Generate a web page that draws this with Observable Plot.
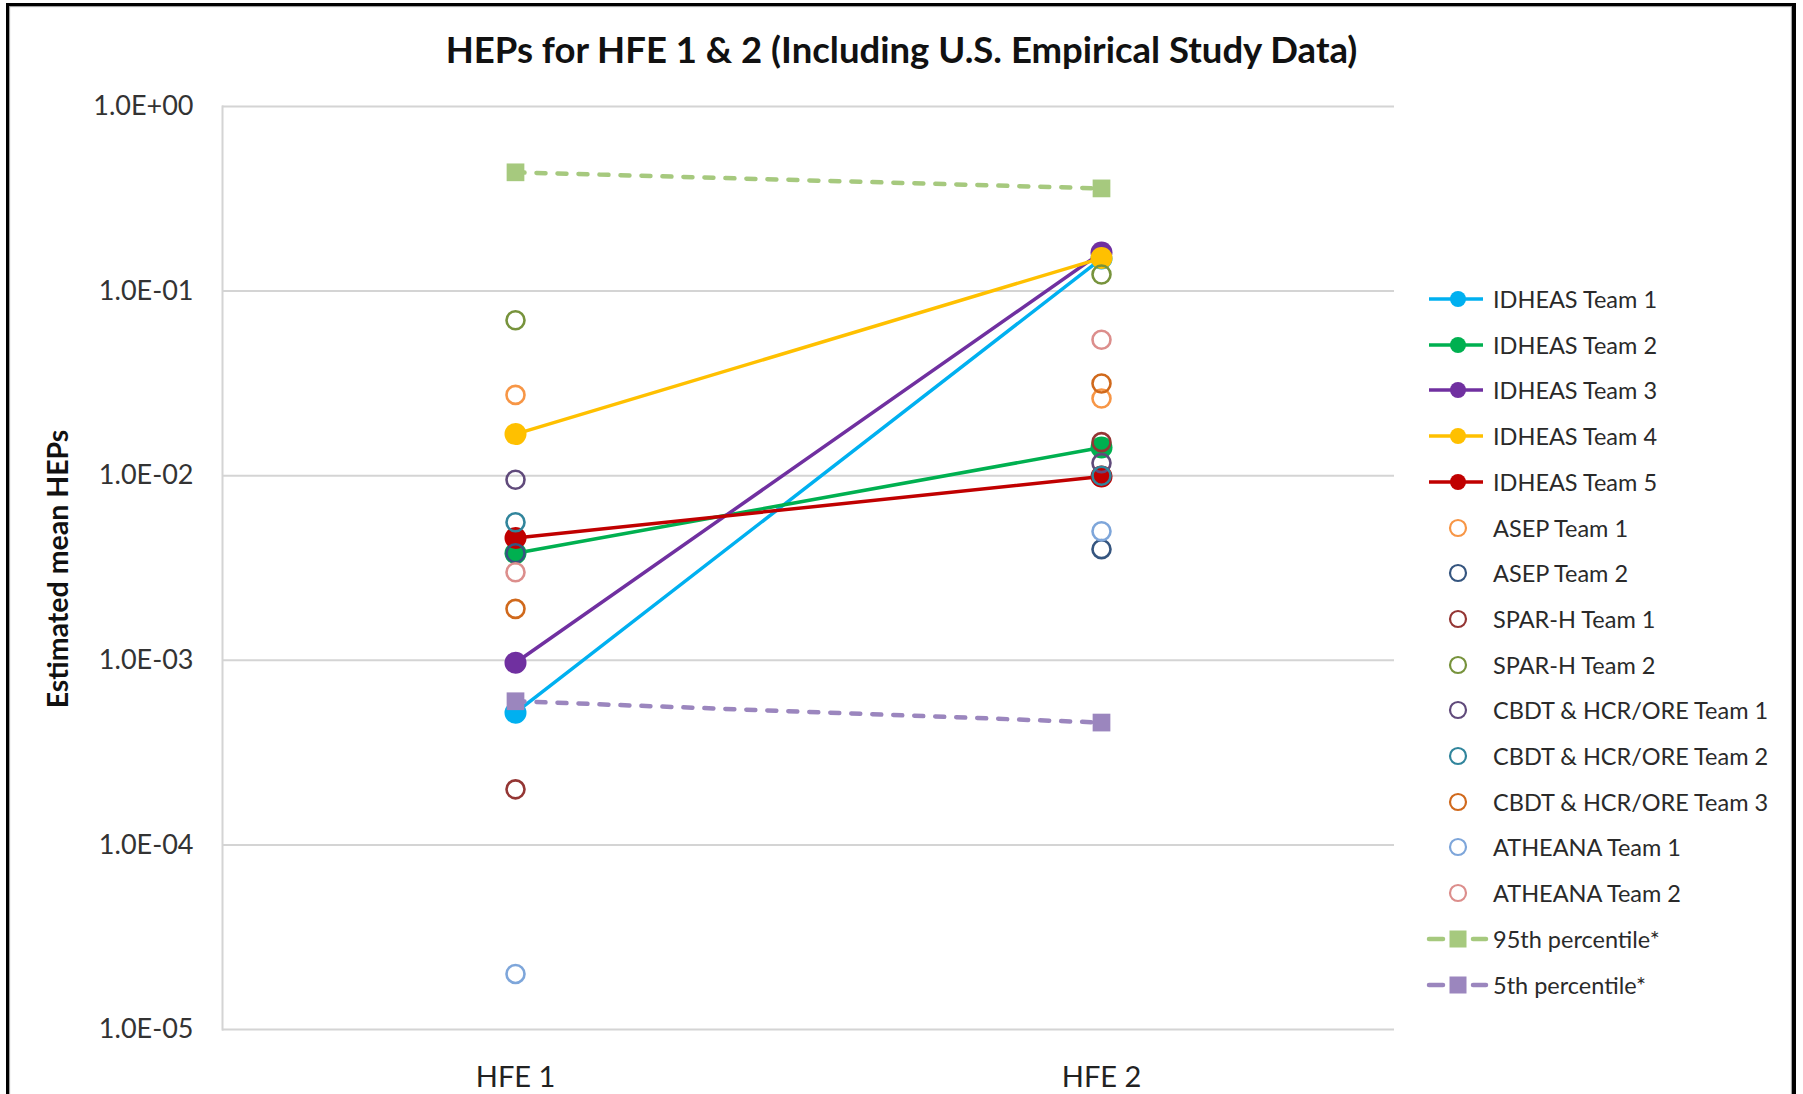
<!DOCTYPE html>
<html>
<head>
<meta charset="utf-8">
<script src="https://cdn.jsdelivr.net/npm/d3@7"></script>
<script src="https://cdn.jsdelivr.net/npm/@observablehq/plot@0.6"></script>
<style>
  html, body { margin: 0; padding: 0; background: #fff; }
  #wrap { position: relative; width: 1803px; height: 1094px; overflow: hidden; font-family: Lato, "Open Sans", sans-serif; }
  #chart { position: absolute; left: 0; top: 0; }
  #border { position: absolute; left: 6px; top: 3px; width: 1783px; height: 1200px; border-left: 3px solid #000; border-top: 3px solid #000; border-right: 4px solid #000; box-shadow: inset 1px 1px 1px #999, inset -1px 0 1px #999; pointer-events: none; }
  #title { position: absolute; left: 0; top: 26px; width: 1803px; text-align: center; font-weight: 700; font-size: 36.5px; line-height: 46px; color: #111; }
  #ylabel { position: absolute; left: 57px; top: 569px; transform: translate(-50%, -50%) rotate(-90deg); white-space: nowrap; font-weight: 700; font-size: 28.5px; color: #111; }
  .lg { position: absolute; left: 1425px; height: 34px; display: flex; align-items: center; }
  .lg svg { width: 68px; height: 34px; flex: none; }
  .lg span { font-size: 23.5px; color: #2a2a2a; white-space: nowrap; }
</style>
</head>
<body>
<div id="wrap">
  <div id="chart"></div>
  <div id="title">HEPs for HFE 1 &amp; 2 (Including U.S. Empirical Study Data)</div>
  <div id="ylabel">Estimated mean HEPs</div>
  <div id="legend"></div>
  <div id="border"></div>
</div>
<script>
// ---- data ----
const categories = ["HFE 1", "HFE 2"];
const seriesNames = [
  "IDHEAS Team 1", "IDHEAS Team 2", "IDHEAS Team 3", "IDHEAS Team 4", "IDHEAS Team 5",
  "ASEP Team 1", "ASEP Team 2", "SPAR-H Team 1", "SPAR-H Team 2",
  "CBDT & HCR/ORE Team 1", "CBDT & HCR/ORE Team 2", "CBDT & HCR/ORE Team 3",
  "ATHEANA Team 1", "ATHEANA Team 2", "95th percentile*", "5th percentile*"
];
const seriesKinds = [
  "line", "line", "line", "line", "line",
  "open", "open", "open", "open", "open", "open", "open", "open", "open",
  "dash", "dash"
];
const hfe1Values = [
  0.00052, 0.0038, 0.00097, 0.0168, 0.0046,
  0.0274, 0.0038, 0.0002, 0.0695,
  0.0095, 0.0056, 0.0019,
  0.00002, 0.0030, 0.44, 0.0006
];
const hfe2Values = [
  0.150, 0.0142, 0.162, 0.151, 0.0099,
  0.0262, 0.0040, 0.0152, 0.123,
  0.0117, 0.0100, 0.0316,
  0.0050, 0.0545, 0.36, 0.00046
];
const seriesColors = [
  "#00B0F0", "#00B050", "#7030A0", "#FFC000", "#C00000",
  "#F79646", "#35557F", "#943634", "#77933C",
  "#604A7B", "#31859C", "#D0691C",
  "#7EA6DA", "#DC8E8C", "#A6C97E", "#9B86BE"
];
const yTicks = [1e-5, 1e-4, 1e-3, 1e-2, 1e-1, 1];

// ---- build table ----
const rows = [];
seriesNames.forEach((s, i) => {
  rows.push({series: s, hfe: categories[0], value: hfe1Values[i]});
  rows.push({series: s, hfe: categories[1], value: hfe2Values[i]});
});

const fmt = v => {
  const e = Math.round(Math.log10(v));
  return "1.0E" + (e < 0 ? "-" : "+") + String(Math.abs(e)).padStart(2, "0");
};

const marks = [
  Plot.gridY(yTicks, {stroke: "#d4d4d4", strokeOpacity: 1, strokeWidth: 2}),
  Plot.frame({anchor: "left", stroke: "#d4d4d4", strokeWidth: 2}),
  Plot.axisY({ticks: yTicks, tickFormat: fmt, tickSize: 0, tickPadding: 29, fontSize: 27, label: null, color: "#333"}),
  Plot.axisX({tickSize: 0, tickPadding: 37, fontSize: 29, label: null, color: "#222"})
];

seriesNames.forEach((s, i) => {
  const d = rows.filter(r => r.series === s);
  const kind = seriesKinds[i];
  if (kind === "line") {
    marks.push(Plot.line(d, {x: "hfe", y: "value", stroke: "series", strokeWidth: 3.5}));
    marks.push(Plot.dot(d, {x: "hfe", y: "value", fill: "series", r: 11}));
  } else if (kind === "open") {
    marks.push(Plot.dot(d, {x: "hfe", y: "value", stroke: "series", r: 9, strokeWidth: 2.6, fill: "none"}));
  }
});
seriesNames.forEach((s, i) => {
  if (seriesKinds[i] !== "dash") return;
  const d = rows.filter(r => r.series === s);
  marks.push(Plot.line(d, {x: "hfe", y: "value", stroke: "series", strokeWidth: 4.5, strokeDasharray: "9,12", strokeLinecap: "round"}));
  marks.push(Plot.dot(d, {x: "hfe", y: "value", fill: "series", symbol: "square", r: 10}));
});

const chart = Plot.plot({
  width: 1803,
  height: 1094,
  marginTop: 106,
  marginBottom: 65,
  marginLeft: 222,
  marginRight: 409,
  style: {fontFamily: "Lato, 'Open Sans', sans-serif", background: "transparent"},
  x: {type: "point", domain: categories, padding: 0.5},
  y: {type: "log", domain: [1e-5, 1]},
  color: {domain: seriesNames, range: seriesColors},
  marks
});
document.getElementById("chart").appendChild(chart);

// ---- legend ----
const legend = document.getElementById("legend");
const ns = "http://www.w3.org/2000/svg";
seriesNames.forEach((s, i) => {
  const row = document.createElement("div");
  row.className = "lg";
  row.style.top = (299 + i * 45.7 - 17) + "px";
  const svg = document.createElementNS(ns, "svg");
  const c = seriesColors[i];
  const kind = seriesKinds[i];
  const add = (tag, attrs) => {
    const el = document.createElementNS(ns, tag);
    for (const k in attrs) el.setAttribute(k, attrs[k]);
    svg.appendChild(el);
  };
  if (kind === "line") {
    add("line", {x1: 4, x2: 58, y1: 17, y2: 17, stroke: c, "stroke-width": 3.5});
    add("circle", {cx: 33, cy: 17, r: 8, fill: c});
  } else if (kind === "open") {
    add("circle", {cx: 33, cy: 17, r: 8, fill: "none", stroke: c, "stroke-width": 2.2});
  } else {
    add("line", {x1: 4, x2: 18, y1: 17, y2: 17, stroke: c, "stroke-width": 4.5, "stroke-linecap": "round"});
    add("line", {x1: 48, x2: 61, y1: 17, y2: 17, stroke: c, "stroke-width": 4.5, "stroke-linecap": "round"});
    add("rect", {x: 24.5, y: 8.5, width: 17, height: 17, fill: c});
  }
  row.appendChild(svg);
  const t = document.createElement("span");
  t.textContent = s;
  row.appendChild(t);
  legend.appendChild(row);
});
</script>
</body>
</html>
